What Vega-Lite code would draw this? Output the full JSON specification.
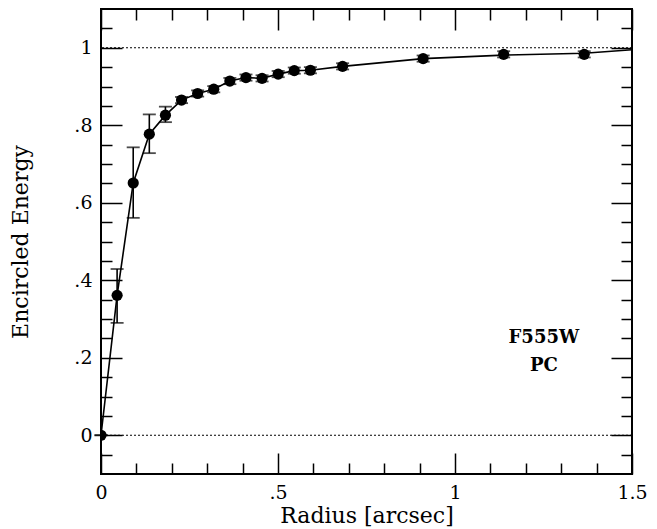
{
  "$schema": "https://vega.github.io/schema/vega-lite/v6.json",
  "width": 531,
  "height": 465,
  "autosize": "none",
  "padding": {"left": 101, "top": 9, "right": 25, "bottom": 55},
  "background": "white",
  "config": {
    "view": {"stroke": "black", "strokeWidth": 2},
    "font": "DejaVu Serif",
    "axis": {
      "labelFont": "DejaVu Serif",
      "titleFont": "DejaVu Serif",
      "labelColor": "black",
      "titleColor": "black",
      "tickColor": "black",
      "tickWidth": 1.5,
      "domain": false,
      "grid": false,
      "titleFontWeight": "normal",
      "labelFontSize": 19,
      "titleFontSize": 22
    }
  },
  "datasets": {
    "pts": [
      {"r": 0.0, "ee": 0.0, "lo": 0.0, "hi": 0.0},
      {"r": 0.0455, "ee": 0.361, "lo": 0.29, "hi": 0.429},
      {"r": 0.091, "ee": 0.651, "lo": 0.561, "hi": 0.743},
      {"r": 0.1365, "ee": 0.777, "lo": 0.728, "hi": 0.828},
      {"r": 0.182, "ee": 0.826, "lo": 0.808, "hi": 0.848},
      {"r": 0.2275, "ee": 0.865, "lo": 0.857, "hi": 0.873},
      {"r": 0.273, "ee": 0.882, "lo": 0.874, "hi": 0.89},
      {"r": 0.3185, "ee": 0.893, "lo": 0.885, "hi": 0.901},
      {"r": 0.364, "ee": 0.914, "lo": 0.906, "hi": 0.922},
      {"r": 0.4095, "ee": 0.923, "lo": 0.915, "hi": 0.931},
      {"r": 0.455, "ee": 0.921, "lo": 0.913, "hi": 0.929},
      {"r": 0.5005, "ee": 0.932, "lo": 0.924, "hi": 0.94},
      {"r": 0.546, "ee": 0.941, "lo": 0.933, "hi": 0.949},
      {"r": 0.5915, "ee": 0.942, "lo": 0.934, "hi": 0.95},
      {"r": 0.6825, "ee": 0.952, "lo": 0.944, "hi": 0.96},
      {"r": 0.91, "ee": 0.972, "lo": 0.964, "hi": 0.98},
      {"r": 1.1375, "ee": 0.983, "lo": 0.975, "hi": 0.991},
      {"r": 1.365, "ee": 0.983, "lo": 0.975, "hi": 0.991}
    ],
    "curve": [
      {"r": 0.0, "ee": 0.0},
      {"r": 0.0455, "ee": 0.361},
      {"r": 0.091, "ee": 0.651},
      {"r": 0.1365, "ee": 0.777},
      {"r": 0.182, "ee": 0.826},
      {"r": 0.2275, "ee": 0.865},
      {"r": 0.273, "ee": 0.882},
      {"r": 0.3185, "ee": 0.893},
      {"r": 0.364, "ee": 0.914},
      {"r": 0.4095, "ee": 0.923},
      {"r": 0.455, "ee": 0.921},
      {"r": 0.5005, "ee": 0.932},
      {"r": 0.546, "ee": 0.941},
      {"r": 0.5915, "ee": 0.942},
      {"r": 0.6825, "ee": 0.952},
      {"r": 0.91, "ee": 0.972},
      {"r": 1.1375, "ee": 0.981},
      {"r": 1.365, "ee": 0.986},
      {"r": 1.5, "ee": 0.995}
    ],
    "refs": [{"y": 0}, {"y": 1}],
    "labels": [
      {"x": 1.251, "y": 0.25, "t": "F555W"},
      {"x": 1.251, "y": 0.179, "t": "PC"}
    ]
  },
  "resolve": {"axis": {"x": "independent", "y": "independent"}},
  "layer": [
    {
      "data": {"name": "refs"},
      "mark": {"type": "rule", "strokeDash": [2, 2], "strokeWidth": 1, "color": "black"},
      "encoding": {
        "y": {"field": "y", "type": "quantitative", "scale": {"domain": [-0.1, 1.1], "nice": false, "zero": false}, "axis": null}
      }
    },
    {
      "data": {"name": "curve"},
      "mark": {"type": "line", "color": "black", "strokeWidth": 1.6, "clip": true},
      "encoding": {
        "x": {"field": "r", "type": "quantitative", "scale": {"domain": [0, 1.5], "nice": false, "zero": false},
          "axis": {"orient": "top", "title": null, "labels": false,
            "values": [0,0.1,0.2,0.3,0.4,0.5,0.6,0.7,0.8,0.9,1.0,1.1,1.2,1.3,1.4,1.5],
            "tickSize": {"condition": {"test": "abs(round(datum.value*10)%5)==0", "value": -21}, "value": -11}}},
        "y": {"field": "ee", "type": "quantitative", "scale": {"domain": [-0.1, 1.1], "nice": false, "zero": false},
          "axis": {"orient": "right", "title": null, "labels": false,
            "values": [-0.05,0,0.05,0.1,0.15,0.2,0.25,0.3,0.35,0.4,0.45,0.5,0.55,0.6,0.65,0.7,0.75,0.8,0.85,0.9,0.95,1.0,1.05],
            "tickSize": {"condition": {"test": "abs(round(datum.value*20)%4)==0", "value": -21}, "value": -11}}}
      }
    },
    {
      "data": {"name": "pts"},
      "mark": {"type": "rule", "color": "black", "strokeWidth": 1.6},
      "encoding": {
        "x": {"field": "r", "type": "quantitative", "axis": null},
        "y": {"field": "lo", "type": "quantitative", "axis": null},
        "y2": {"field": "hi"}
      }
    },
    {
      "data": {"name": "pts"},
      "mark": {"type": "tick", "orient": "horizontal", "color": "black", "size": 13, "thickness": 1.8},
      "encoding": {
        "x": {"field": "r", "type": "quantitative", "axis": null},
        "y": {"field": "lo", "type": "quantitative", "axis": null}
      }
    },
    {
      "data": {"name": "pts"},
      "mark": {"type": "tick", "orient": "horizontal", "color": "black", "size": 13, "thickness": 1.8},
      "encoding": {
        "x": {"field": "r", "type": "quantitative", "axis": null},
        "y": {"field": "hi", "type": "quantitative", "axis": null}
      }
    },
    {
      "data": {"name": "pts"},
      "mark": {"type": "point", "shape": "circle", "filled": true, "color": "black", "opacity": 1, "size": 125, "clip": true},
      "encoding": {
        "x": {"field": "r", "type": "quantitative", "scale": {"domain": [0, 1.5], "nice": false, "zero": false},
          "axis": {"orient": "bottom", "title": "Radius [arcsec]", "titlePadding": -7,
            "values": [0,0.1,0.2,0.3,0.4,0.5,0.6,0.7,0.8,0.9,1.0,1.1,1.2,1.3,1.4,1.5],
            "tickSize": {"condition": {"test": "abs(round(datum.value*10)%5)==0", "value": -21}, "value": -11},
            "labelPadding": 30, "labelFlush": false, "labelOverlap": false,
            "labelExpr": "abs(round(datum.value*10)%5)==0 ? ((datum.value>0 && datum.value<0.99) ? slice(format(datum.value,'.1f'),1) : format(datum.value,'.1~f')) : ''"}},
        "y": {"field": "ee", "type": "quantitative", "scale": {"domain": [-0.1, 1.1], "nice": false, "zero": false},
          "axis": {"orient": "left", "title": "Encircled Energy", "titlePadding": 41,
            "values": [-0.05,0,0.05,0.1,0.15,0.2,0.25,0.3,0.35,0.4,0.45,0.5,0.55,0.6,0.65,0.7,0.75,0.8,0.85,0.9,0.95,1.0,1.05],
            "tickSize": {"condition": {"test": "abs(round(datum.value*20)%4)==0", "value": -21}, "value": -11},
            "labelPadding": 30, "labelFlush": false, "labelOverlap": false,
            "labelExpr": "abs(round(datum.value*20)%4)==0 ? ((datum.value>0 && datum.value<0.99) ? slice(format(datum.value,'.1f'),1) : format(datum.value,'.1~f')) : ''"}}
      }
    },
    {
      "data": {"name": "labels"},
      "mark": {"type": "text", "font": "DejaVu Serif", "fontSize": 18, "fontWeight": "bold", "color": "black", "baseline": "middle", "align": "center"},
      "encoding": {
        "x": {"field": "x", "type": "quantitative", "axis": null},
        "y": {"field": "y", "type": "quantitative", "axis": null},
        "text": {"field": "t"}
      }
    }
  ]
}
